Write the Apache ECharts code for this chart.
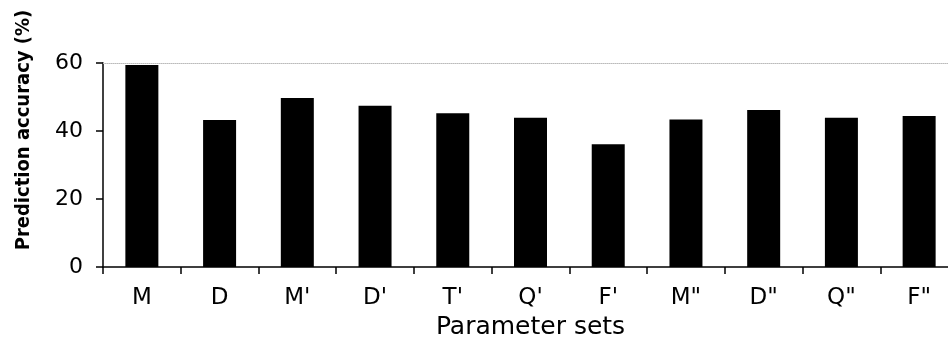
<!DOCTYPE html>
<html>
<head>
<meta charset="utf-8">
<script src="https://cdn.jsdelivr.net/npm/echarts@6/dist/echarts.min.js"></script>
<style>
  html, body { margin: 0; padding: 0; background: #fff; }
  #grafico { width: 948px; height: 337px; }
</style>
</head>
<body>
<div id="grafico"></div>
<script>
// parameter sets on the x axis
var categorias = ['M', 'D', "M'", "D'", "T'", "Q'", "F'", 'M"', 'D"', 'Q"', 'F"'];
// prediction accuracy (%)
var acuracia = [59.4, 43.2, 49.7, 47.4, 45.2, 43.9, 36.1, 43.4, 46.2, 43.9, 44.4];
var ticksY = [0, 20, 40, 60];

var fonte = 'DejaVu Sans, Verdana, sans-serif';

var myChart = echarts.init(document.getElementById('grafico'));

var option = {
    animation: false,
    grid: {
        left: 103,
        right: -10,
        top: 63,
        bottom: 70,
        outerBoundsMode: 'none',
        containLabel: false
    },
    xAxis: [{
        type: 'category',
        data: categorias,
        position: 'bottom',
        name: 'Parameter sets',
        nameLocation: 'middle',
        nameGap: 47,
        nameTextStyle: { color: '#000', fontFamily: fonte, fontSize: 25 },
        axisLine: { lineStyle: { color: '#000', width: 1.5 } },
        axisTick: { show: true, length: 7, lineStyle: { color: '#000', width: 1.5 } },
        axisLabel: { color: '#000', fontFamily: fonte, fontSize: 23, margin: 20 }
    }, {
        // faint dotted line along the top of the plot
        type: 'category',
        data: categorias,
        position: 'top',
        axisLine: { lineStyle: { color: '#bbb', width: 1, type: 'dotted' } },
        axisTick: { show: false },
        axisLabel: { show: false }
    }],
    yAxis: {
        type: 'value',
        min: 0,
        max: 60,
        interval: 20,
        axisLine: { show: true, lineStyle: { color: '#000', width: 1.5 } },
        axisTick: { show: true, length: 7, lineStyle: { color: '#000', width: 1.5 } },
        axisLabel: {
            color: '#000', fontFamily: fonte, fontSize: 22, margin: 20,
            formatter: function (v) { return ticksY.indexOf(v) >= 0 ? v : ''; }
        },
        splitLine: { show: false }
    },
    graphic: [{
        type: 'text',
        x: 24,
        y: 130,
        rotation: Math.PI / 2,
        style: {
            text: 'Prediction accuracy (%)',
            font: 'bold 20px "DejaVu Sans Condensed", "DejaVu Sans", sans-serif',
            fill: '#000',
            textAlign: 'center',
            textVerticalAlign: 'middle'
        }
    }],
    series: [{
        type: 'bar',
        data: acuracia,
        barWidth: 33,
        itemStyle: { color: '#000' }
    }]
};

myChart.setOption(option);
</script>
</body>
</html>
